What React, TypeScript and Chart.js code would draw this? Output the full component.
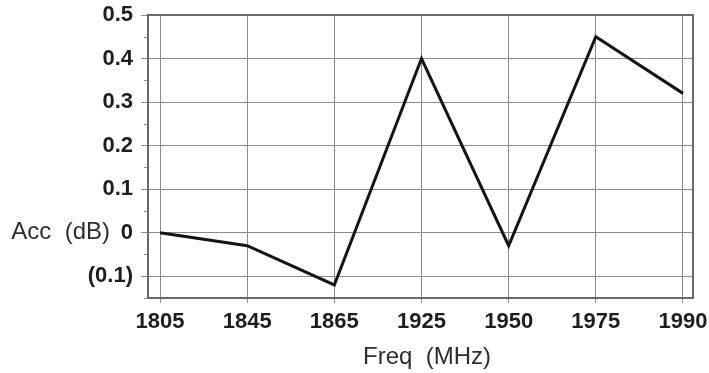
import React, { useEffect, useRef } from "react";
import { Chart, registerables } from "chart.js";

Chart.register(...registerables);

const categories = ["1805", "1845", "1865", "1925", "1950", "1975", "1990"];
const accValues = [0, -0.03, -0.12, 0.4, -0.03, 0.45, 0.32];
const yTickValues = [-0.15, -0.1, -0.05, 0, 0.05, 0.1, 0.15, 0.2, 0.25, 0.3, 0.35, 0.4, 0.45, 0.5];
const yMajorLabels: Record<string, string> = {
  "-0.1": "(0.1)",
  "0": "0",
  "0.1": "0.1",
  "0.2": "0.2",
  "0.3": "0.3",
  "0.4": "0.4",
  "0.5": "0.5",
};
const yTitle = "Acc  (dB)";
const xTitle = "Freq  (MHz)";

const FONT = "'Liberation Sans', Arial, Helvetica, sans-serif";
const GRID = "#8c8c8c";

const keyOf = (v: number) => String(Math.round(v * 100) / 100);
const isMajor = (v: number) => keyOf(v) in yMajorLabels;

const overlayPlugin = {
  id: "overlay",
  afterDraw(chart: any) {
    const { ctx, chartArea, scales } = chart;
    const y = scales.y;
    ctx.save();
    // minor y ticks
    ctx.strokeStyle = GRID;
    ctx.lineWidth = 1;
    yTickValues.forEach((v) => {
      if (!isMajor(v)) {
        const py = Math.round(y.getPixelForValue(v)) + 0.5;
        ctx.beginPath();
        ctx.moveTo(chartArea.left - 4, py);
        ctx.lineTo(chartArea.left, py);
        ctx.stroke();
      }
    });
    // box
    ctx.strokeStyle = "#6a6a6a";
    ctx.lineWidth = 2;
    ctx.strokeRect(chartArea.left, chartArea.top, chartArea.right - chartArea.left, chartArea.bottom - chartArea.top);
    // titles
    ctx.fillStyle = "#2e2e2e";
    ctx.font = `24px ${FONT}`;
    ctx.textBaseline = "middle";
    ctx.textAlign = "right";
    ctx.fillText(yTitle, 110, y.getPixelForValue(0));
    ctx.textAlign = "center";
    ctx.fillText(xTitle, 427, 357);
    ctx.restore();
  },
};

export default function App() {
  const canvasRef = useRef<HTMLCanvasElement | null>(null);

  useEffect(() => {
    if (!canvasRef.current) return;
    const chart = new Chart(canvasRef.current, {
      type: "line",
      data: {
        datasets: [
          {
            data: accValues.map((v, i) => ({ x: i, y: v })),
            borderColor: "#141414",
            borderWidth: 3,
            pointRadius: 0,
            tension: 0,
            fill: false,
          },
        ],
      },
      options: {
        responsive: false,
        animation: false,
        devicePixelRatio: 1,
        layout: { padding: { left: 0, top: 15, right: 16, bottom: 0 } },
        plugins: { legend: { display: false }, tooltip: { enabled: false } },
        scales: {
          x: {
            type: "linear",
            min: -0.138,
            max: 6.115,
            afterBuildTicks: (scale: any) => {
              scale.ticks = categories.map((_, i) => ({ value: i }));
            },
            afterFit: (scale: any) => {
              scale.height = 75;
              scale.paddingLeft = 0;
              scale.paddingRight = 0;
            },
            ticks: {
              autoSkip: false,
              maxRotation: 0,
              padding: 6,
              color: "#1e1e1e",
              font: { family: FONT, size: 22, weight: "bold" },
              callback: (v: any) => categories[Math.round(Number(v))] ?? "",
            },
            grid: { color: GRID, lineWidth: 1, tickLength: 5, tickColor: GRID },
            border: { display: false },
          },
          y: {
            type: "linear",
            min: -0.15,
            max: 0.5,
            afterBuildTicks: (scale: any) => {
              scale.ticks = yTickValues.map((v) => ({ value: v }));
            },
            afterFit: (scale: any) => {
              scale.width = 148;
              scale.paddingTop = 0;
              scale.paddingBottom = 0;
            },
            ticks: {
              autoSkip: false,
              padding: 8,
              color: "#1e1e1e",
              font: { family: FONT, size: 22, weight: "bold" },
              callback: (v: any) => yMajorLabels[keyOf(Number(v))] ?? "",
            },
            grid: {
              color: (c: any) => (c.tick && isMajor(c.tick.value) ? GRID : "rgba(0,0,0,0)"),
              tickColor: (c: any) => (c.tick && isMajor(c.tick.value) ? GRID : "rgba(0,0,0,0)"),
              lineWidth: 1,
              tickLength: 7,
            },
            border: { display: false },
          },
        },
      },
      plugins: [overlayPlugin],
    } as any);
    return () => chart.destroy();
  }, []);

  return (
    <div style={{ position: "absolute", left: 0, top: 0, width: 709, height: 373, background: "#fff" }}>
      <canvas ref={canvasRef} width={709} height={373} style={{ width: 709, height: 373, display: "block" }} />
    </div>
  );
}
